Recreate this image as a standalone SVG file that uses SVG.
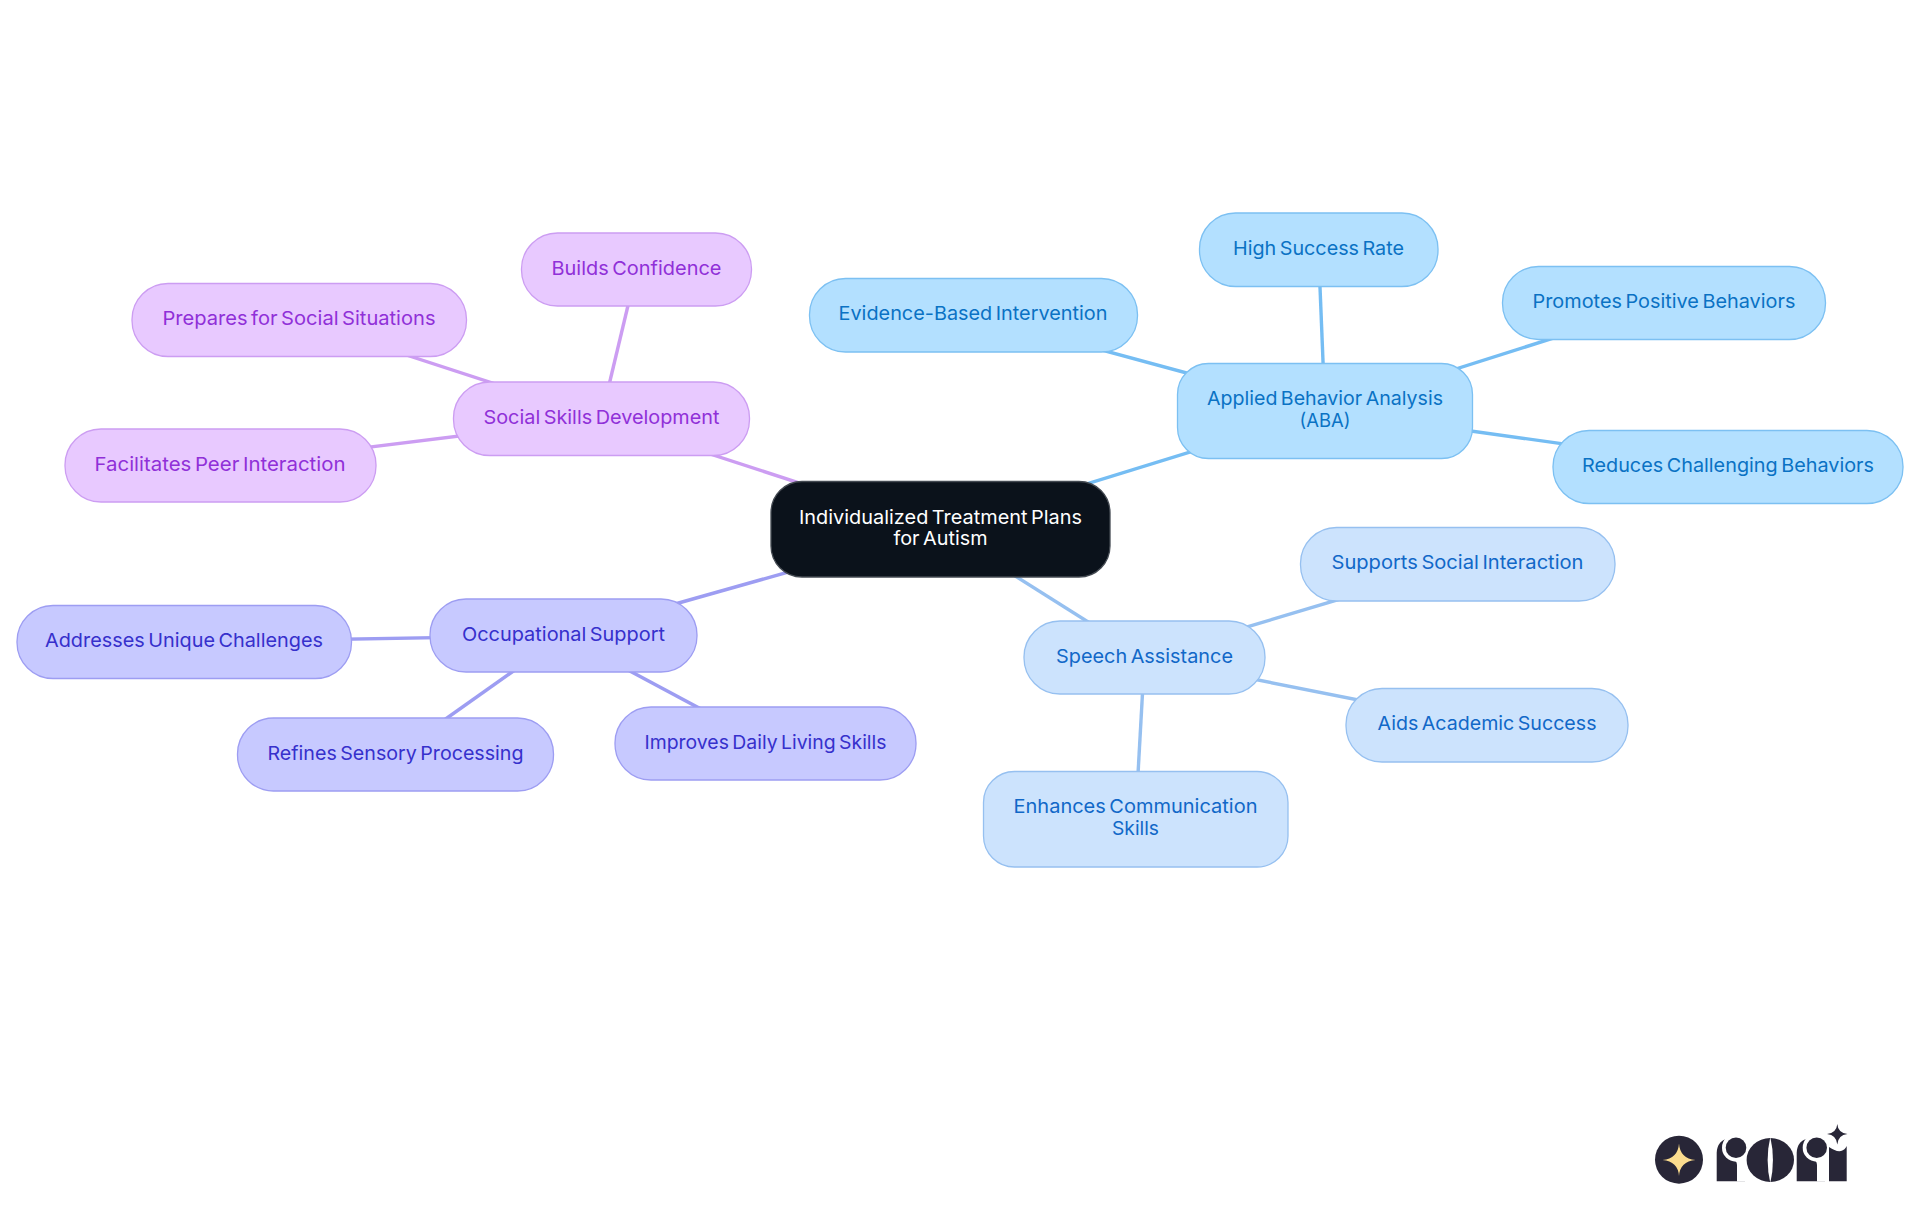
<svg xmlns="http://www.w3.org/2000/svg" width="1920" height="1215" viewBox="0 0 1920 1215">
<style>
text{font-family:"Inter","Noto Sans","Liberation Sans",sans-serif;font-size:19px;text-anchor:middle;word-spacing:-2px}
.c{stroke-width:3.4;fill:none}
.n{stroke-width:1.3}
.a{fill:#b3e0ff;stroke:#7cc0f2}.at{fill:#0a72c4}.al{stroke:#75bdf3}
.s{fill:#cce3fd;stroke:#96c0f0}.st{fill:#1168c8}.sl{stroke:#96c0f0}
.o{fill:#c7c9ff;stroke:#9d9df2}.ot{fill:#3630cc}.ol{stroke:#9d9df2}
.p{fill:#e8c9ff;stroke:#cc9df2}.pt{fill:#9030d8}.pl{stroke:#cc9df2}
.k{fill:#282637}
</style>
<rect width="1920" height="1215" fill="#fff"/>
<g id="connectors">
<line class="c al" x1="940.5" y1="529" x2="1325" y2="410.5"/>
<line class="c sl" x1="940.5" y1="529" x2="1144.5" y2="657.5"/>
<line class="c ol" x1="940.5" y1="529" x2="563.5" y2="635.5"/>
<line class="c pl" x1="940.5" y1="529" x2="601" y2="418.5"/>
<line class="c al" x1="1325" y1="410.5" x2="973" y2="315"/>
<line class="c al" x1="1325" y1="410.5" x2="1318.5" y2="250"/>
<line class="c al" x1="1325" y1="410.5" x2="1664" y2="303"/>
<line class="c al" x1="1325" y1="410.5" x2="1728" y2="467"/>
<line class="c sl" x1="1144.5" y1="657.5" x2="1457.5" y2="564"/>
<line class="c sl" x1="1144.5" y1="657.5" x2="1487" y2="725.5"/>
<line class="c sl" x1="1144.5" y1="657.5" x2="1135.5" y2="819"/>
<line class="c pl" x1="601" y1="418.5" x2="636.5" y2="270"/>
<line class="c pl" x1="601" y1="418.5" x2="299" y2="320"/>
<line class="c pl" x1="601" y1="418.5" x2="220.5" y2="465.5"/>
<line class="c ol" x1="563.5" y1="635.5" x2="184" y2="642"/>
<line class="c ol" x1="563.5" y1="635.5" x2="395.5" y2="754.5"/>
<line class="c ol" x1="563.5" y1="635.5" x2="765.5" y2="743.5"/>
</g>
<g id="root"><rect x="771" y="481.5" width="339" height="95.5" rx="31" fill="#0b121b" stroke="#444a52" stroke-width="1.3"/><text x="940.5" y="524" fill="#fff" textLength="283" lengthAdjust="spacingAndGlyphs">Individualized Treatment Plans</text><text x="940.5" y="545" fill="#fff" textLength="94" lengthAdjust="spacingAndGlyphs">for Autism</text></g>
<g id="aba"><rect class="n a" x="1177.5" y="363.5" width="295" height="95" rx="31"/><text class="at" x="1325" y="405" textLength="236" lengthAdjust="spacingAndGlyphs">Applied Behavior Analysis</text><text class="at" x="1325" y="426.5" textLength="51" lengthAdjust="spacingAndGlyphs">(ABA)</text></g>
<g id="evidence"><rect class="n a" x="809.5" y="278.5" width="328" height="73.5" rx="36"/><text class="at" x="973" y="320" textLength="269" lengthAdjust="spacingAndGlyphs">Evidence-Based Intervention</text></g>
<g id="success"><rect class="n a" x="1199.5" y="213" width="238.5" height="73.5" rx="36"/><text class="at" x="1318.5" y="255" textLength="171" lengthAdjust="spacingAndGlyphs">High Success Rate</text></g>
<g id="positive"><rect class="n a" x="1502.5" y="266.5" width="323" height="73" rx="36"/><text class="at" x="1664" y="308" textLength="263" lengthAdjust="spacingAndGlyphs">Promotes Positive Behaviors</text></g>
<g id="challenging"><rect class="n a" x="1553" y="430.5" width="350" height="73" rx="36"/><text class="at" x="1728" y="472" textLength="292" lengthAdjust="spacingAndGlyphs">Reduces Challenging Behaviors</text></g>
<g id="speech"><rect class="n s" x="1024" y="621" width="241" height="73" rx="36"/><text class="st" x="1144.5" y="663" textLength="177" lengthAdjust="spacingAndGlyphs">Speech Assistance</text></g>
<g id="social-interaction"><rect class="n s" x="1300.5" y="527.5" width="314.5" height="73.5" rx="36"/><text class="st" x="1457.5" y="568.5" textLength="252" lengthAdjust="spacingAndGlyphs">Supports Social Interaction</text></g>
<g id="academic"><rect class="n s" x="1346" y="688.5" width="282" height="73.5" rx="36"/><text class="st" x="1487" y="730" textLength="219" lengthAdjust="spacingAndGlyphs">Aids Academic Success</text></g>
<g id="communication"><rect class="n s" x="983.5" y="771.5" width="304.5" height="95.5" rx="31"/><text class="st" x="1135.5" y="813" textLength="244" lengthAdjust="spacingAndGlyphs">Enhances Communication</text><text class="st" x="1135.5" y="834.5" textLength="47" lengthAdjust="spacingAndGlyphs">Skills</text></g>
<g id="occupational"><rect class="n o" x="430" y="599" width="267" height="73" rx="36"/><text class="ot" x="563.5" y="641" textLength="203" lengthAdjust="spacingAndGlyphs">Occupational Support</text></g>
<g id="challenges"><rect class="n o" x="17" y="605.5" width="334.5" height="73" rx="36"/><text class="ot" x="184" y="647" textLength="278" lengthAdjust="spacingAndGlyphs">Addresses Unique Challenges</text></g>
<g id="sensory"><rect class="n o" x="237.5" y="718" width="316" height="73" rx="36"/><text class="ot" x="395.5" y="759.5" textLength="256" lengthAdjust="spacingAndGlyphs">Refines Sensory Processing</text></g>
<g id="daily"><rect class="n o" x="615" y="707" width="301" height="73" rx="36"/><text class="ot" x="765.5" y="748.5" textLength="242" lengthAdjust="spacingAndGlyphs">Improves Daily Living Skills</text></g>
<g id="skills"><rect class="n p" x="453.5" y="382" width="296" height="73.5" rx="36"/><text class="pt" x="601.5" y="424" textLength="236" lengthAdjust="spacingAndGlyphs">Social Skills Development</text></g>
<g id="confidence"><rect class="n p" x="521.5" y="233" width="230" height="73" rx="36"/><text class="pt" x="636.5" y="275" textLength="170" lengthAdjust="spacingAndGlyphs">Builds Confidence</text></g>
<g id="situations"><rect class="n p" x="132" y="283.5" width="334.5" height="73" rx="36"/><text class="pt" x="299" y="325" textLength="273" lengthAdjust="spacingAndGlyphs">Prepares for Social Situations</text></g>
<g id="peer"><rect class="n p" x="65" y="429" width="311" height="73" rx="36"/><text class="pt" x="220" y="470.5" textLength="251" lengthAdjust="spacingAndGlyphs">Facilitates Peer Interaction</text></g>
<g id="logo">
<circle class="k" cx="1679" cy="1159.7" r="24"/>
<path fill="#fbdc8e" d="M1679 1143.5Q1680 1158.5 1695.5 1160Q1680 1161.5 1679 1176Q1678 1161.5 1662.5 1160Q1678 1158.5 1679 1143.5Z"/>
<path class="k" d="M1716.7 1181.3V1153Q1717 1140 1730 1138H1745V1181.3Z"/>
<path fill="#fff" d="M1737 1181.5V1165Q1737 1160 1731 1158L1750 1150V1181.5ZM1730 1136H1752V1150L1738 1148Z"/>
<circle fill="#fff" cx="1736" cy="1147.7" r="14"/>
<circle class="k" cx="1736" cy="1147.7" r="10.3"/>
<ellipse class="k" cx="1770.3" cy="1160" rx="23.7" ry="22"/>
<path fill="#fff" d="M1770.3 1137Q1765 1160 1770.3 1183Q1775.6 1160 1770.3 1137Z"/>
<path class="k" d="M1796.7 1181.3V1153Q1797 1140 1810 1138H1825V1181.3Z"/>
<path fill="#fff" d="M1817 1181.5V1165Q1817 1160 1811 1158L1829 1150V1181.5ZM1810 1136H1830V1150L1818 1148Z"/>
<circle fill="#fff" cx="1816.7" cy="1147.7" r="14"/>
<circle class="k" cx="1816.7" cy="1147.7" r="10.3"/>
<path class="k" d="M1829 1181.3V1147Q1836 1152 1841 1151Q1845 1150 1846.7 1146V1181.3Z"/>
<path class="k" d="M1837.3 1124Q1838 1133 1847.5 1134Q1838 1135 1837.3 1144.5Q1836.5 1135 1827 1134Q1836.5 1133 1837.3 1124Z"/>
</g>
</svg>
